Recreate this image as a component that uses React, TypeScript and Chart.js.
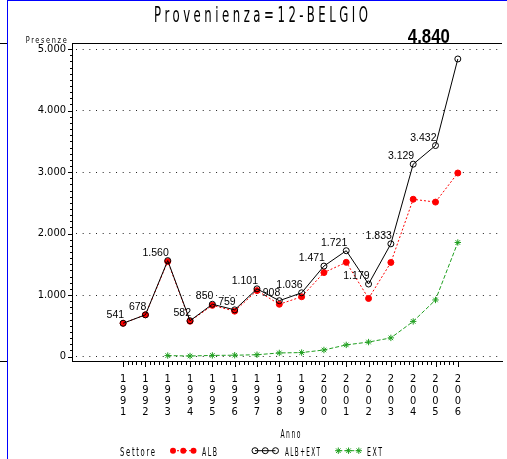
import React, { useEffect, useRef } from 'react';
import { Chart, registerables } from 'chart.js';

Chart.register(...registerables);

const TITLE = 'Provenienza=12-BELGIO';
const Y_TITLE = 'Presenze';
const X_TITLE = 'Anno';
const LEGEND_TITLE = 'Settore';

const years = [1991, 1992, 1993, 1994, 1995, 1996, 1997, 1998, 1999, 2000, 2001, 2002, 2003, 2004, 2005, 2006];
const albExtValues = [541, 678, 1560, 582, 850, 759, 1101, 908, 1036, 1471, 1721, 1179, 1833, 3129, 3432, 4840];
const albValues = [541, 678, 1545, 574, 832, 738, 1072, 850, 972, 1365, 1532, 944, 1530, 2558, 2512, 2985];
const extValues: (number | null)[] = [null, null, 15, 8, 18, 21, 29, 58, 64, 106, 189, 235, 303, 571, 920, 1855];
const yTickValues = [0, 1000, 2000, 3000, 4000, 5000];

const RED = '#ff0000';
const BLACK = '#000000';
const GREEN = '#1f9f1f';

const SAS_FONT = "'DejaVu Sans Condensed', 'Liberation Sans Narrow', 'DejaVu Sans', sans-serif";
const LABEL_FONT = "'Liberation Sans', Arial, sans-serif";

const fmt = (v: number) => String(v).replace(/\B(?=(\d{3})+(?!\d))/g, '.');

function fitText(
  ctx: CanvasRenderingContext2D,
  text: string,
  x: number,
  baseline: number,
  size: number,
  width: number,
  spacingEm: number,
  align: 'left' | 'right' | 'center',
  weight = 'normal',
  family = "'DejaVu Sans', sans-serif"
) {
  ctx.save();
  ctx.font = `${weight} ${size}px ${family}`;
  (ctx as any).letterSpacing = '0px';
  const w0 = ctx.measureText(text).width;
  const sp = size * spacingEm;
  const total = w0 + sp * (text.length - 1);
  const s = width / total;
  (ctx as any).letterSpacing = `${sp}px`;
  let left = x;
  if (align === 'right') left = x - width;
  else if (align === 'center') left = x - width / 2;
  ctx.translate(left, baseline);
  ctx.scale(s, 1);
  ctx.textAlign = 'left';
  ctx.textBaseline = 'alphabetic';
  ctx.fillText(text, 0, 0);
  ctx.restore();
}

function drawMarker(ctx: CanvasRenderingContext2D, kind: string, x: number, y: number, color: string) {
  ctx.save();
  ctx.strokeStyle = color;
  ctx.fillStyle = color;
  ctx.lineWidth = 1;
  ctx.setLineDash([]);
  if (kind === 'dot') {
    ctx.beginPath();
    ctx.arc(x, y, 3, 0, Math.PI * 2);
    ctx.fill();
  } else if (kind === 'circle') {
    ctx.beginPath();
    ctx.arc(x, y, 3, 0, Math.PI * 2);
    ctx.stroke();
  } else {
    const r = 3.2;
    ctx.beginPath();
    ctx.moveTo(x, y - r); ctx.lineTo(x, y + r);
    ctx.moveTo(x - r, y); ctx.lineTo(x + r, y);
    const d = r * 0.707;
    ctx.moveTo(x - d, y - d); ctx.lineTo(x + d, y + d);
    ctx.moveTo(x - d, y + d); ctx.lineTo(x + d, y - d);
    ctx.stroke();
  }
  ctx.restore();
}

const decoPlugin = {
  id: 'deco',
  afterDatasetsDraw(chart: any) {
    const ctx: CanvasRenderingContext2D = chart.ctx;
    const meta = chart.getDatasetMeta(0);
    const last = meta.data.length - 1;
    ctx.save();
    ctx.fillStyle = '#000';
    meta.data.forEach((pt: any, i: number) => {
      const v = albExtValues[i];
      if (i === last) {
        fitText(ctx, fmt(v), pt.x - 8, chart.chartArea.top, 19.5, 42, 0, 'right', 'bold', LABEL_FONT);
      } else {
        ctx.font = `10.5px ${LABEL_FONT}`;
        ctx.textAlign = 'right';
        ctx.textBaseline = 'alphabetic';
        ctx.fillText(fmt(v), pt.x + 1, pt.y - 5);
      }
    });
    ctx.restore();
  },
  afterDraw(chart: any) {
    const ctx: CanvasRenderingContext2D = chart.ctx;
    const a = chart.chartArea;
    const xs = chart.scales.x;
    const ys = chart.scales.y;
    ctx.save();
    ctx.strokeStyle = '#000';
    ctx.lineWidth = 1;
    const seg = (x1: number, y1: number, x2: number, y2: number) => {
      ctx.beginPath();
      ctx.moveTo(x1, y1);
      ctx.lineTo(x2, y2);
      ctx.stroke();
    };
    // top frame
    seg(a.left, Math.round(a.top) + 0.5, a.right, Math.round(a.top) + 0.5);
    // y minor / major ticks
    const y0 = yTickValues[0];
    const y1 = yTickValues[yTickValues.length - 1];
    for (let v = y0; v <= y1; v += 100) {
      const py = Math.round(ys.getPixelForValue(v)) + 0.5;
      const major = v % 1000 === 0;
      seg(a.left - (major ? 4 : 2), py, a.left, py);
    }
    // x minor / major ticks
    const n = (years[years.length - 1] - years[0]) * 5;
    for (let i = 0; i <= n; i++) {
      const v = years[0] + i / 5;
      const px = Math.round(xs.getPixelForValue(v)) + 0.5;
      seg(px, a.bottom + 1, px, a.bottom + (i % 5 === 0 ? 6 : 4));
    }
    ctx.fillStyle = '#000';
    // title
    fitText(ctx, TITLE, 154, 21.7, 20.5, 214, 0.3, 'left');
    // y title
    fitText(ctx, Y_TITLE, a.left - 5.3, 42.7, 9, 41, 0.25, 'right');
    // x title
    const cx = (xs.getPixelForValue(years[0]) + xs.getPixelForValue(years[years.length - 1])) / 2;
    fitText(ctx, X_TITLE, cx, 437.7, 13, 20, 0.25, 'center');
    // legend
    const ly = 450.7;
    fitText(ctx, LEGEND_TITLE, 120, 456, 12, 35, 0.25, 'left');
    const items = [
      { name: 'ALB', kind: 'dot', color: RED, dash: [2, 2], start: 173, textX: 202, textW: 15 },
      { name: 'ALB+EXT', kind: 'circle', color: BLACK, dash: [], start: 255, textX: 285, textW: 35 },
      { name: 'EXT', kind: 'star', color: GREEN, dash: [4, 2], start: 338.3, textX: 367, textW: 15 },
    ];
    items.forEach((it) => {
      ctx.save();
      ctx.strokeStyle = it.color;
      ctx.setLineDash(it.dash);
      seg(it.start, ly, it.start + 20.5, ly);
      ctx.restore();
      for (let k = 0; k < 3; k++) drawMarker(ctx, it.kind, it.start + k * 10.25, ly, it.color);
      ctx.fillStyle = '#000';
      fitText(ctx, it.name, it.textX, 456, 12, it.textW, 0.25, 'left');
    });
    // frame of the surrounding page
    ctx.fillStyle = '#0000ff';
    ctx.fillRect(7, 0, 1, chart.height);
    ctx.fillRect(7, 0, chart.width - 7, 1);
    ctx.fillStyle = '#000';
    ctx.fillRect(0, Math.round(a.top), 7, 1);
    ctx.fillRect(0, Math.round(a.bottom), 7, 1);
    ctx.restore();
  },
};

export default function App() {
  const ref = useRef<HTMLCanvasElement>(null);
  useEffect(() => {
    const canvas = ref.current!;
    const chart = new Chart(canvas, {
      type: 'line',
      data: {
        datasets: [
          {
            label: 'ALB+EXT',
            data: years.map((x, i) => ({ x, y: albExtValues[i] })),
            borderColor: BLACK,
            borderWidth: 1,
            pointStyle: 'circle',
            pointRadius: 3,
            pointBorderWidth: 1,
            pointBackgroundColor: 'rgba(0,0,0,0)',
            pointBorderColor: BLACK,
            tension: 0,
          },
          {
            label: 'ALB',
            data: years.map((x, i) => ({ x, y: albValues[i] })),
            borderColor: RED,
            borderWidth: 1,
            borderDash: [2, 2],
            pointStyle: 'circle',
            pointRadius: 3,
            pointBorderWidth: 1,
            pointBackgroundColor: RED,
            pointBorderColor: RED,
            tension: 0,
          },
          {
            label: 'EXT',
            data: years
              .map((x, i) => ({ x, y: extValues[i] }))
              .filter((p) => p.y !== null) as any,
            borderColor: GREEN,
            borderWidth: 1,
            borderDash: [4, 2],
            pointStyle: 'star',
            pointRadius: 3.2,
            pointBorderWidth: 1,
            pointBackgroundColor: GREEN,
            pointBorderColor: GREEN,
            tension: 0,
          },
        ],
      },
      options: {
        animation: false,
        responsive: false,
        devicePixelRatio: 1,
        events: [],
        layout: { padding: { top: 43, left: 0, right: 0, bottom: 0 } },
        plugins: {
          legend: { display: false },
          title: { display: false },
          tooltip: { enabled: false },
        },
        scales: {
          x: {
            type: 'linear',
            min: 1988.71,
            max: 2007.98,
            afterBuildTicks: (s: any) => {
              s.ticks = years.map((v) => ({ value: v }));
            },
            afterFit: (s: any) => {
              s.height = 98;
            },
            ticks: {
              callback: (v: any) => String(v).split(''),
              font: { family: SAS_FONT, size: 11, lineHeight: 0.98 },
              color: '#000',
              padding: 13,
              maxRotation: 0,
              minRotation: 0,
              autoSkip: false,
            },
            grid: { display: false, drawTicks: false },
            border: { display: true, color: '#000', width: 1 },
          },
          y: {
            type: 'linear',
            min: -73,
            max: 5100,
            afterBuildTicks: (s: any) => {
              s.ticks = yTickValues.map((v) => ({ value: v }));
            },
            afterFit: (s: any) => {
              s.width = 72;
            },
            ticks: {
              callback: (v: any) => fmt(Number(v)),
              font: { family: SAS_FONT, size: 11 },
              color: '#000',
              padding: 6,
            },
            grid: { color: '#222', lineWidth: 1, drawTicks: false },
            border: { display: true, color: '#000', width: 1, dash: [1, 5.67], dashOffset: 3.67 },
          },
        },
      } as any,
      plugins: [decoPlugin],
    });
    return () => chart.destroy();
  }, []);
  return (
    <div style={{ position: 'fixed', left: 0, top: 0, width: 507, height: 459, background: '#fff' }}>
      <canvas ref={ref} width={507} height={459} style={{ display: 'block', width: 507, height: 459 }} />
    </div>
  );
}
